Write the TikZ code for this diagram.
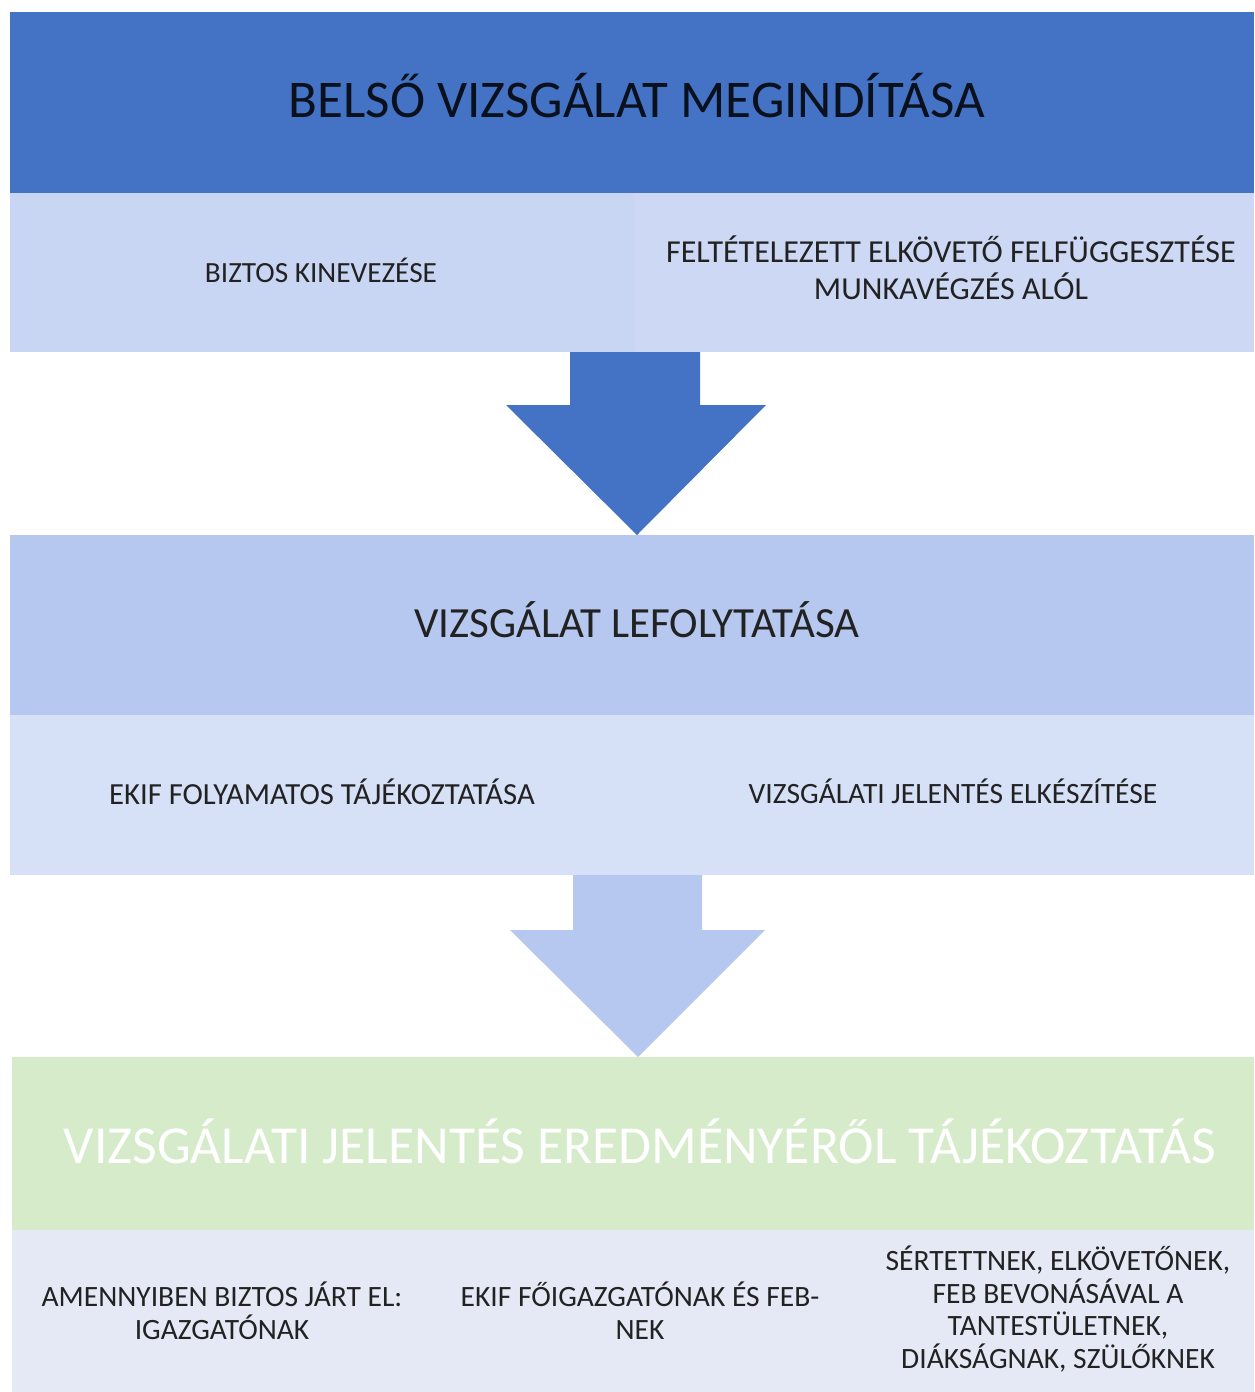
\documentclass[tikz,border=0pt]{standalone}
\usepackage{fontspec}
\setmainfont{Carlito}
\definecolor{dblue}{HTML}{4472C4}
\definecolor{sub1}{HTML}{C8D5F3}
\definecolor{band2}{HTML}{B6C8F0}
\definecolor{sub2}{HTML}{D6E0F6}
\definecolor{band3}{HTML}{D5EBC9}
\definecolor{sub3}{HTML}{E4E9F5}
\definecolor{txt}{HTML}{222222}
\begin{document}
\begin{tikzpicture}[x=1pt,y=-1pt,
  cell/.style={rectangle,inner sep=0pt,outer sep=0pt,draw=none},
  lbl/.style={inner sep=0pt,align=center,text=txt}]
\useasboundingbox (0,0) rectangle (1254,1392);
\fill[white] (0,0) rectangle (1254,1392);
% band 1
\node[cell,fill=dblue,minimum width=1244pt,minimum height=181pt] (b1) at (632,102.5) {};
\node[lbl,text=black!85!dblue,font=\fontsize{53}{60}\selectfont] (t1) at (637,96) {BELSŐ VIZSGÁLAT MEGINDÍTÁSA};
\node[cell,fill=sub1,minimum width=625pt,minimum height=159pt] (s1l) at (322.5,272.5) {};
\node[cell,fill=sub1!92!white,minimum width=619pt,minimum height=159pt] (s1r) at (944.5,272.5) {};
\node[lbl,font=\fontsize{29.3}{37}\selectfont] (t1l) at (321,270) {BIZTOS KINEVEZÉSE};
\node[lbl,font=\fontsize{32}{37}\selectfont] (t1r) at (951,268) {FELTÉTELEZETT ELKÖVETŐ FELFÜGGESZTÉSE\\MUNKAVÉGZÉS ALÓL};
% arrow 1
\coordinate (a1s) at (637,352);
\coordinate (a1t) at (637,535);
\fill[dblue] ([xshift=-67pt]a1s) -- ([xshift=63pt]a1s) -- ([xshift=63pt,yshift=-53pt]a1s) -- ([xshift=129pt,yshift=-53pt]a1s)
  -- (a1t) -- ([xshift=-131pt,yshift=-53pt]a1s) -- ([xshift=-67pt,yshift=-53pt]a1s) -- cycle;
% band 2
\node[cell,fill=band2,minimum width=1244pt,minimum height=180pt] (b2) at (632,625) {};
\node[lbl,font=\fontsize{43}{48}\selectfont] (t2) at (637,620) {VIZSGÁLAT LEFOLYTATÁSA};
\node[cell,fill=sub2,minimum width=1244pt,minimum height=160pt] (s2) at (632,795) {};
\node[lbl,font=\fontsize{30.7}{36}\selectfont] (t2l) at (322,792) {EKIF FOLYAMATOS TÁJÉKOZTATÁSA};
\node[lbl,font=\fontsize{29.5}{36}\selectfont] (t2r) at (953,791) {VIZSGÁLATI JELENTÉS ELKÉSZÍTÉSE};
% arrow 2
\coordinate (a2s) at (638,875);
\coordinate (a2t) at (638,1057);
\fill[band2] ([xshift=-65pt]a2s) -- ([xshift=64pt]a2s) -- ([xshift=64pt,yshift=-55pt]a2s) -- ([xshift=127pt,yshift=-55pt]a2s)
  -- (a2t) -- ([xshift=-128pt,yshift=-55pt]a2s) -- ([xshift=-65pt,yshift=-55pt]a2s) -- cycle;
% band 3
\node[cell,fill=band3,minimum width=1242pt,minimum height=173pt] (b3) at (633,1143.5) {};
\node[lbl,text=white,font=\fontsize{53.5}{60}\selectfont] (t3) at (640,1141) {VIZSGÁLATI JELENTÉS EREDMÉNYÉRŐL TÁJÉKOZTATÁS};
\node[cell,fill=sub3,minimum width=1242pt,minimum height=162pt] (s3) at (633,1311) {};
\node[lbl,font=\fontsize{29.5}{33}\selectfont] (t3a) at (222,1311) {AMENNYIBEN BIZTOS JÁRT EL:\\IGAZGATÓNAK};
\node[lbl,font=\fontsize{29.5}{33}\selectfont] (t3b) at (640,1311) {EKIF FŐIGAZGATÓNAK ÉS FEB-\\NEK};
\node[lbl,font=\fontsize{29.5}{32.5}\selectfont] (t3c) at (1058,1309) {SÉRTETTNEK, ELKÖVETŐNEK,\\FEB BEVONÁSÁVAL A\\TANTESTÜLETNEK,\\DIÁKSÁGNAK, SZÜLŐKNEK};
\end{tikzpicture}
\end{document}
